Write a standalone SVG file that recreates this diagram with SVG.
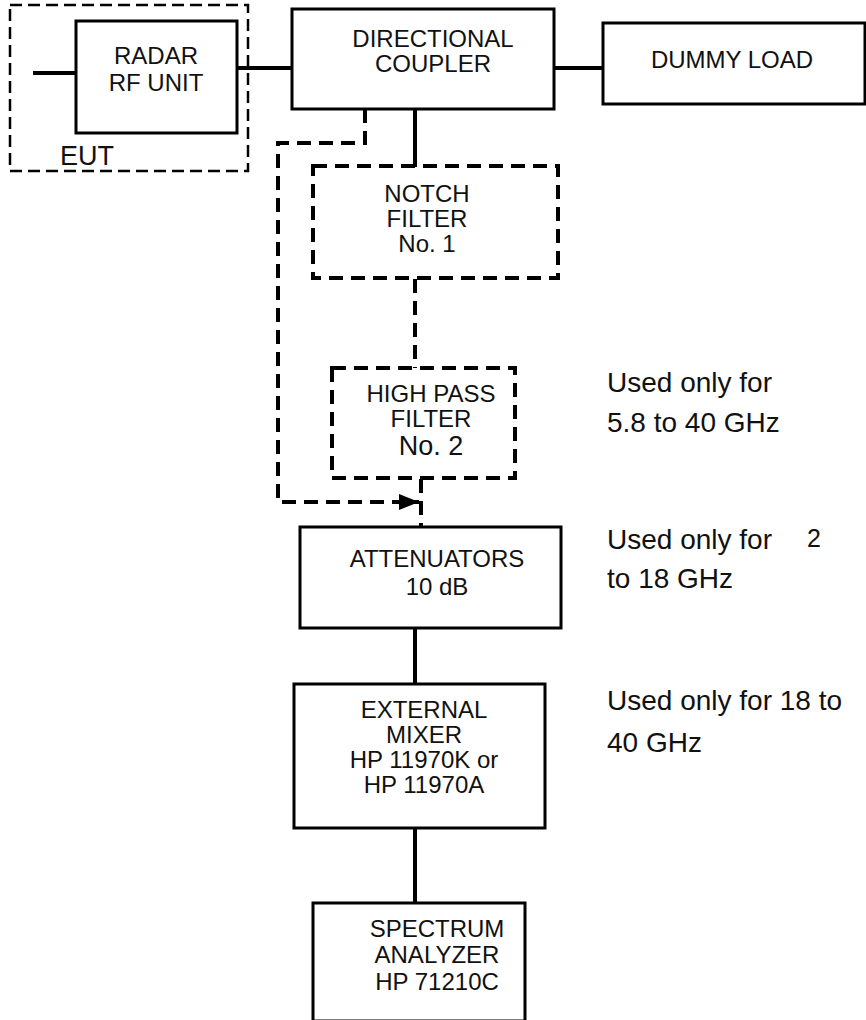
<svg xmlns="http://www.w3.org/2000/svg" width="866" height="1020" viewBox="0 0 866 1020">
<style>
text{font-family:"Liberation Sans",Arial,sans-serif;fill:#111;}
.t{font-size:24px;text-anchor:middle;}
.n{font-size:28px;}
.box{fill:#fff;stroke:#000;stroke-width:3;}
.dbox{fill:none;stroke:#000;stroke-width:4;stroke-dasharray:14 8;}
.eut{fill:none;stroke:#000;stroke-width:2.5;stroke-dasharray:12 6;}
.c{stroke:#000;stroke-width:4;fill:none;}
.dc{stroke:#000;stroke-width:4;fill:none;stroke-dasharray:14 8;}
</style>
<defs>
<marker id="ah" markerWidth="20" markerHeight="16" refX="20" refY="8" orient="auto" markerUnits="userSpaceOnUse">
<path d="M0,0 L20,8 L0,16 Z" fill="#000"/>
</marker>
</defs>
<g id="connectors">
<line class="c" x1="33" y1="73" x2="77" y2="73"/>
<line class="c" x1="236" y1="68" x2="293" y2="68"/>
<line class="c" x1="553" y1="68" x2="604" y2="68"/>
<line class="c" x1="415" y1="109" x2="415" y2="167"/>
<line class="dc" x1="415" y1="279" x2="415" y2="368"/>
<polyline class="dc" points="365,109 365,143 278,143 278,502 419,502" marker-end="url(#ah)"/>
<line class="dc" x1="421" y1="479" x2="421" y2="528"/>
<line class="c" x1="415" y1="628" x2="415" y2="685"/>
<line class="c" x1="415" y1="828" x2="415" y2="904"/>
</g>
<g id="eut">
<rect class="eut" x="10" y="5" width="238" height="166"/>
<text x="60" y="165" style="font-size:27px">EUT</text>
</g>
<g id="radar">
<rect class="box" x="76" y="21" width="161" height="112"/>
<text class="t" x="156" y="64">RADAR</text>
<text class="t" x="156" y="91">RF UNIT</text>
</g>
<g id="coupler">
<rect class="box" x="292" y="9" width="262" height="100"/>
<text class="t" x="433" y="47">DIRECTIONAL</text>
<text class="t" x="433" y="72">COUPLER</text>
</g>
<g id="dummy">
<rect class="box" x="603" y="23" width="262" height="81"/>
<text class="t" x="732" y="68">DUMMY LOAD</text>
</g>
<g id="notch">
<rect class="dbox" x="313" y="166" width="245" height="112"/>
<text class="t" x="427" y="202">NOTCH</text>
<text class="t" x="427" y="227">FILTER</text>
<text class="t" x="427" y="252">No. 1</text>
</g>
<g id="highpass">
<rect class="dbox" x="332" y="368" width="183" height="110"/>
<text class="t" x="431" y="402">HIGH PASS</text>
<text class="t" x="431" y="427">FILTER</text>
<text class="t" x="431" y="455" style="font-size:27px">No. 2</text>
</g>
<g id="attenuators">
<rect class="box" x="300" y="527" width="261" height="101"/>
<text class="t" x="437" y="567">ATTENUATORS</text>
<text class="t" x="437" y="595">10 dB</text>
</g>
<g id="mixer">
<rect class="box" x="294" y="684" width="251" height="144"/>
<text class="t" x="424" y="718">EXTERNAL</text>
<text class="t" x="424" y="743">MIXER</text>
<text class="t" x="424" y="768">HP 11970K or</text>
<text class="t" x="424" y="793">HP 11970A</text>
</g>
<g id="analyzer">
<rect class="box" x="313" y="903" width="212" height="118"/>
<text class="t" x="437" y="937">SPECTRUM</text>
<text class="t" x="437" y="963">ANALYZER</text>
<text class="t" x="437" y="990">HP 71210C</text>
</g>
<g id="notes">
<text class="n" x="607" y="392">Used only for</text>
<text class="n" x="607" y="432">5.8 to 40 GHz</text>
<text class="n" x="607" y="549">Used only for</text>
<text class="n" x="807" y="547" style="font-size:25px">2</text>
<text class="n" x="607" y="588">to 18 GHz</text>
<text class="n" x="607" y="710">Used only for 18 to</text>
<text class="n" x="607" y="752">40 GHz</text>
</g>
</svg>
